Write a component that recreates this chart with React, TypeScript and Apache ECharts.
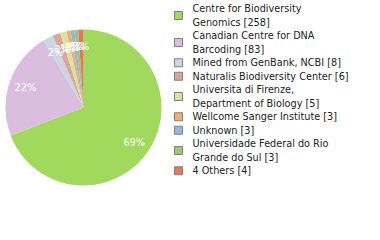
import React, { useEffect, useRef } from "react";
import * as echarts from "echarts";

const names = [
  "Centre for Biodiversity Genomics",
  "Canadian Centre for DNA Barcoding",
  "Mined from GenBank, NCBI",
  "Naturalis Biodiversity Center",
  "Universita di Firenze, Department of Biology",
  "Wellcome Sanger Institute",
  "Unknown",
  "Universidade Federal do Rio Grande do Sul",
  "4 Others",
];
const legendLabels = [
  "Centre for Biodiversity\nGenomics [258]",
  "Canadian Centre for DNA\nBarcoding [83]",
  "Mined from GenBank, NCBI [8]",
  "Naturalis Biodiversity Center [6]",
  "Universita di Firenze,\nDepartment of Biology [5]",
  "Wellcome Sanger Institute [3]",
  "Unknown [3]",
  "Universidade Federal do Rio\nGrande do Sul [3]",
  "4 Others [4]",
];
const values = [258, 83, 8, 6, 5, 3, 3, 3, 4];
const colors = [
  "#a0d95b",
  "#dbbddf",
  "#c8d7e3",
  "#dea399",
  "#d8e39b",
  "#f0ad72",
  "#94b6dd",
  "#a1c57a",
  "#df7a5a",
];

export default function App() {
  const ref = useRef<HTMLDivElement>(null);
  useEffect(() => {
    document.body.style.margin = "0";
    const chart = echarts.init(ref.current!, null, { renderer: "svg" });
    const data = names.map((n, i) => ({
      name: n,
      value: values[i],
      itemStyle: { color: colors[i] },
    }));
    const labelMap: Record<string, string> = {};
    names.forEach((n, i) => (labelMap[n] = legendLabels[i]));
    const font = "DejaVu Sans";
    chart.setOption({
      animation: false,
      legend: {
        orient: "vertical",
        left: 174,
        top: 2,
        padding: 0,
        itemGap: 0,
        itemWidth: 8,
        itemHeight: 8,
        selectedMode: false,
        data: names.map((n, i) => ({
          name: n,
          icon: "rect",
          itemStyle: { color: colors[i], borderColor: "#808080", borderWidth: 1 },
        })),
        formatter: (n: string) => labelMap[n],
        textStyle: {
          fontFamily: font,
          fontSize: 9.7,
          lineHeight: 13.5,
          color: "#222",
          padding: [0, 0, 0, 5],
        },
      },
      series: [
        {
          type: "pie",
          center: [83.5, 107.5],
          radius: [0, 78],
          startAngle: 90,
          clockwise: true,
          silent: true,
          label: { show: false },
          labelLine: { show: false },
          data,
        },
        {
          type: "pie",
          center: [83.5, 107.5],
          radius: [39, 78],
          startAngle: 90,
          clockwise: true,
          silent: true,
          avoidLabelOverlap: false,
          minShowLabelAngle: 0,
          labelLayout: { hideOverlap: false },
          itemStyle: { color: "rgba(0,0,0,0)" },
          label: {
            show: true,
            position: "inside",
            color: "#fff",
            fontFamily: font,
            fontSize: 9.7,
            formatter: (p: any) => Math.round(p.percent) + "%",
          },
          labelLine: { show: false },
          data: names.map((n, i) => ({ name: n, value: values[i] })),
        },
      ],
    });
    return () => chart.dispose();
  }, []);
  return <div ref={ref} style={{ width: 380, height: 240 }} />;
}
